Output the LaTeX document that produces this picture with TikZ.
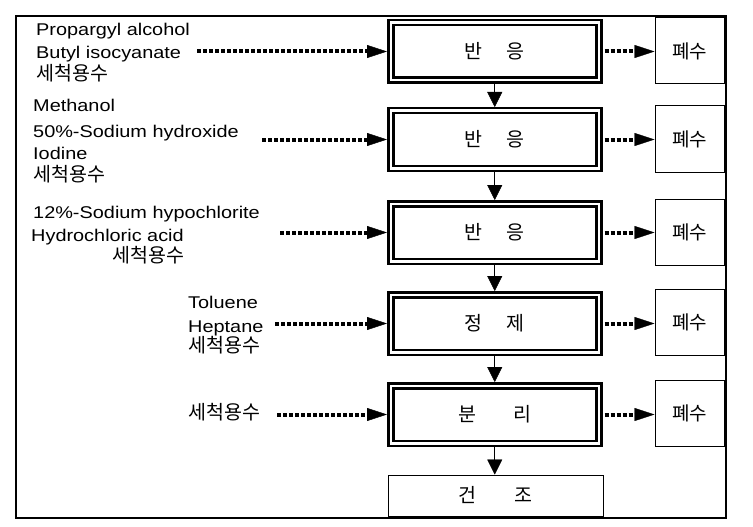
\documentclass[tikz,border=0pt]{standalone}
\usepackage{fontspec}
\setmainfont{Liberation Sans}[FakeStretch=1.17]
\newfontfamily\kr{Noto Sans CJK KR}
\usetikzlibrary{arrows.meta}
\begin{document}
\begin{tikzpicture}[x=1pt,y=-1pt,
  lbl/.style={anchor=base west, inner sep=0pt, font=\fontsize{17}{20}\selectfont},
  klbl/.style={anchor=base west, inner sep=0pt, font=\kr\fontsize{19.5}{20}\selectfont},
  stepbox/.style={draw, double, line width=2.5pt, double distance=2.5pt, minimum width=208pt, minimum height=57.5pt, inner sep=0pt, outer sep=3.75pt, font=\kr\fontsize{19.5}{20}\selectfont},
  wastebox/.style={draw, line width=1pt, minimum width=69pt, minimum height=66pt, inner sep=0pt, font=\kr\fontsize{19}{20}\selectfont},
  drybox/.style={draw, line width=1pt, minimum width=215pt, minimum height=41pt, inner sep=0pt, font=\kr\fontsize{19.5}{20}\selectfont},
  feed/.style={line width=4pt, dash pattern=on 4pt off 2pt, -{Triangle[length=20pt,width=13pt,line width=0.4pt]}},
  flow/.style={line width=1pt, -{Triangle[length=15pt,width=15pt,line width=0.4pt]}}
]
\useasboundingbox (0,0) rectangle (753,527);
\draw[line width=1.3pt] (16,16) rectangle (726,518);

% process steps
\node[stepbox] (r1) at (494.75,51.5) {반\hspace{24pt}응};
\node[stepbox] (r2) at (494.75,139.5) {반\hspace{24pt}응};
\node[stepbox] (r3) at (494.75,232.5) {반\hspace{24pt}응};
\node[stepbox] (r4) at (494.75,323.5) {정\hspace{24pt}제};
\node[stepbox] (r5) at (494.75,414.5) {분\hspace{37pt}리};
\node[drybox] (dry) at (495.5,495.5) {건\hspace{38pt}조};

% waste boxes
\node[wastebox] (w1) at (689.5,51) {폐수};
\node[wastebox] (w2) at (689.5,139) {폐수};
\node[wastebox] (w3) at (689.5,232) {폐수};
\node[wastebox] (w4) at (689.5,322.5) {폐수};
\node[wastebox] (w5) at (689.5,413) {폐수};

% main flow
\draw[flow] (r1.south) -- (r2.north);
\draw[flow] (r2.south) -- (r3.north);
\draw[flow] (r3.south) -- (r4.north);
\draw[flow] (r4.south) -- (r5.north);
\draw[flow] (r5.south) -- (r5.south |- dry.north);

% waste arrows
\draw[feed] ([xshift=2pt]r1.east) -- (w1.west |- r1.east);
\draw[feed] ([xshift=2pt]r2.east) -- (w2.west |- r2.east);
\draw[feed] ([xshift=2pt]r3.east) -- (w3.west |- r3.east);
\draw[feed] ([xshift=2pt]r4.east) -- (w4.west |- r4.east);
\draw[feed] ([xshift=2pt]r5.east) -- (w5.west |- r5.east);

% feed labels
\node[lbl] (t1a) at (36,36) {Propargyl alcohol};
\node[lbl] (t1b) at (36,59) {Butyl isocyanate};
\node[klbl] (t1c) at (36,81) {세척용수};
\node[lbl] (t2a) at (33,112) {Methanol};
\node[lbl] (t2b) at (33,137) {50\%-Sodium hydroxide};
\node[lbl] (t2c) at (33,159) {Iodine};
\node[klbl] (t2d) at (33,181) {세척용수};
\node[lbl] (t3a) at (33,218) {12\%-Sodium hypochlorite};
\node[lbl] (t3b) at (31,241) {Hydrochloric acid};
\node[klbl] (t3c) at (112,262) {세척용수};
\node[lbl] (t4a) at (188,308) {Toluene};
\node[lbl] (t4b) at (188,332) {Heptane};
\node[klbl] (t4c) at (188,352) {세척용수};
\node[klbl] (t5) at (188,419) {세척용수};

% feed arrows
\coordinate (f1) at (197,51.5);
\coordinate (f2) at (262,139.5);
\coordinate (f3) at (280,232.5);
\coordinate (f4) at (275,323.5);
\coordinate (f5) at (277,414.5);
\draw[feed] (f1) -- (r1.west);
\draw[feed] (f2) -- (r2.west);
\draw[feed] (f3) -- (r3.west);
\draw[feed] (f4) -- (r4.west);
\draw[feed] (f5) -- (r5.west);
\end{tikzpicture}
\end{document}
